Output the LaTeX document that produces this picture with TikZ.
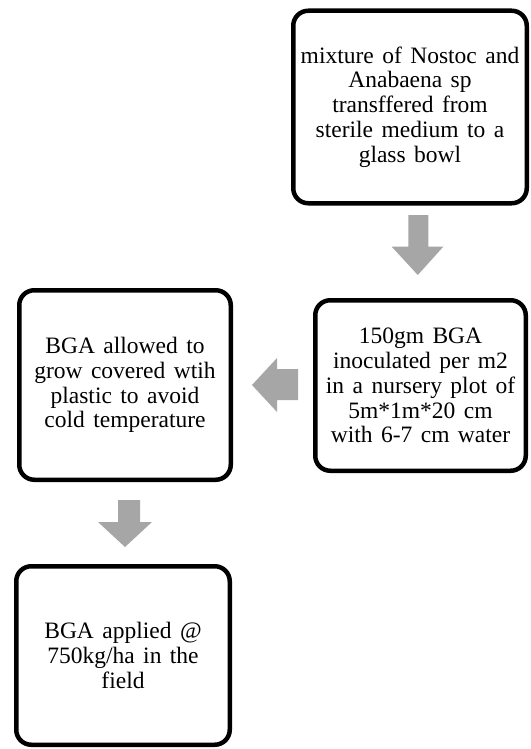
\documentclass[tikz,border=0pt]{standalone}
\usepackage{fontspec}
\setmainfont{Liberation Serif}
\definecolor{arrowgray}{RGB}{166,166,166}
\newcommand{\stepboxfont}{\fontsize{23.5}{24.8}\selectfont\spaceskip 0.36em plus 0.1em minus 0.1em\relax}
\tikzset{
  stepbox/.style={draw=black, line width=4.5pt, rounded corners=15pt, fill=white,
    align=center, inner sep=0pt, font=\stepboxfont},
  blockarrow/.style={fill=arrowgray, draw=none}
}
\begin{document}
\begin{tikzpicture}[x=1pt,y=-1pt]
\useasboundingbox (0,0) rectangle (530,749);
\node[stepbox, minimum width=233.5pt, minimum height=192.5pt] (b1) at (410,107)
  {mixture of Nostoc and\\Anabaena sp\\transffered from\\sterile medium to a\\glass bowl};
\node[stepbox, minimum width=210.5pt, minimum height=170.5pt] (b2) at (420.5,385.5)
  {150gm BGA\\inoculated per m2\\in a nursery plot of\\5m*1m*20 cm\\with 6-7 cm water};
\node[stepbox, minimum width=211.5pt, minimum height=189.5pt] (b3) at (125,385)
  {BGA allowed to\\grow covered wtih\\plastic to avoid\\cold temperature};
\node[stepbox, minimum width=213.5pt, minimum height=178.5pt] (b4) at (123,655.5)
  {BGA applied @\\750kg/ha in the\\field};
% block arrows between the steps
\fill[blockarrow] (408.3,215) -- (428.3,215) -- (428.3,246.7) -- (443.3,246.7)
  -- (417.8,275) -- (391.7,246.7) -- (408.3,246.7) -- cycle;
\fill[blockarrow] (298,369) -- (298,400) -- (277,400) -- (277,412)
  -- (252,385) -- (277,358) -- (277,369) -- cycle;
\fill[blockarrow] (118,500) -- (140,500) -- (140,522) -- (152,522)
  -- (125,547) -- (98,522) -- (118,522) -- cycle;
\end{tikzpicture}
\end{document}
